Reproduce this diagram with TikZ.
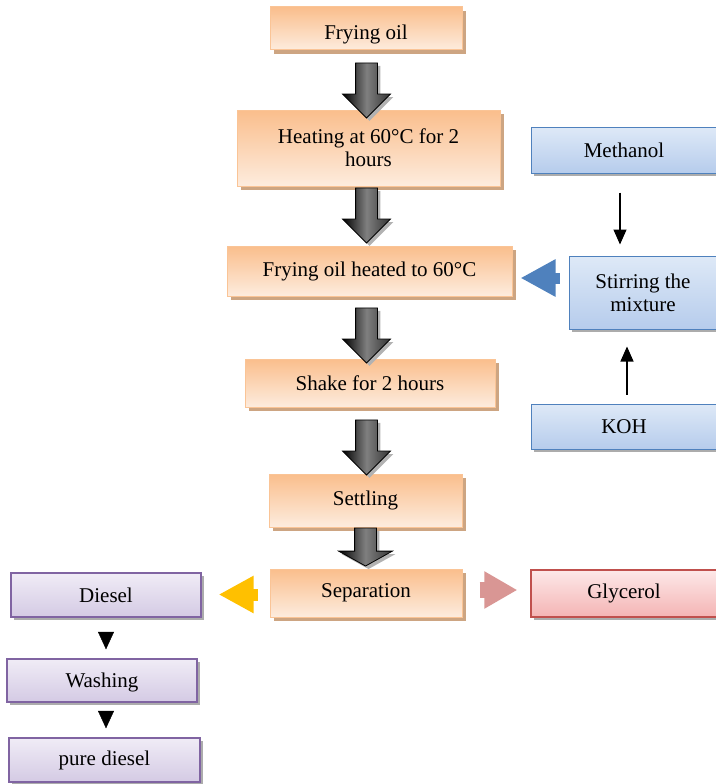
\documentclass[tikz,border=0pt]{standalone}
\usepackage{fontspec}
\setmainfont{Liberation Serif}
\usetikzlibrary{arrows.meta,shapes.arrows,shadows,calc}
\definecolor{orgtop}{RGB}{250,190,140}
\definecolor{orgbot}{RGB}{253,236,222}
\definecolor{orgline}{RGB}{250,196,150}
\definecolor{orgshadow}{RGB}{205,165,130}
\definecolor{bluetop}{RGB}{222,233,247}
\definecolor{bluebot}{RGB}{182,204,236}
\definecolor{blueline}{RGB}{79,129,189}
\definecolor{purptop}{RGB}{240,236,246}
\definecolor{purpbot}{RGB}{212,202,228}
\definecolor{purpline}{RGB}{128,100,162}
\definecolor{redtop}{RGB}{253,232,232}
\definecolor{redbot}{RGB}{244,180,180}
\definecolor{redline}{RGB}{192,80,77}
\definecolor{yellowarr}{RGB}{255,192,0}
\definecolor{pinkarr}{RGB}{217,150,148}

\begin{document}
\begin{tikzpicture}[x=1pt,y=-1pt,
  every node/.style={font=\fontsize{21}{23}\selectfont,align=center,inner sep=2pt},
  obox/.style={draw=orgline,line width=1pt,top color=orgtop,bottom color=orgbot,
    drop shadow={shadow xshift=4pt,shadow yshift=-4pt,fill=orgshadow,opacity=1}},
  bbox/.style={draw=blueline,line width=1pt,top color=bluetop,bottom color=bluebot,
    drop shadow={shadow xshift=3pt,shadow yshift=-3pt,fill=gray!65,opacity=1}},
  pbox/.style={draw=purpline,line width=1.3pt,top color=purptop,bottom color=purpbot,
    drop shadow={shadow xshift=3pt,shadow yshift=-3pt,fill=gray!65,opacity=1}},
  rbox/.style={draw=redline,line width=1.3pt,top color=redtop,bottom color=redbot,
    drop shadow={shadow xshift=3pt,shadow yshift=-3pt,fill=gray!65,opacity=1}},
  darr/.style={single arrow,shape border rotate=270,draw=black,line width=0.8pt,
    left color=black,right color=black!80,middle color=black!50,
    inner sep=10.5pt,single arrow head extend=13pt,minimum height=55pt,
    drop shadow={shadow xshift=3pt,shadow yshift=-3pt,fill=gray!60,opacity=1}},
  thinarr/.style={line width=1.2pt,-{Triangle[length=15pt,width=13pt]}},
  tri/.style={-{Triangle[length=17.5pt,width=16pt]}}]
  \useasboundingbox (0,0) rectangle (715,784);

  \node[obox,minimum width=192pt,minimum height=43pt,text height=26pt,text depth=4pt] (oil) at (366,28.5) {Frying oil};
  \node[obox,minimum width=263pt,minimum height=76pt] (heat) at (368.5,148) {Heating at 60°C for 2\\hours};
  \node[obox,minimum width=285pt,minimum height=50pt] (heated) at (369.5,271) {Frying oil heated to 60°C};
  \node[obox,minimum width=250pt,minimum height=48pt] (shake) at (370,383) {Shake for 2 hours};
  \node[obox,minimum width=193pt,minimum height=53pt] (settle) at (365.5,500.5) {Settling};
  \node[obox,minimum width=192pt,minimum height=48pt] (sep) at (366,593) {Separation};

  \node[bbox,minimum width=186pt,minimum height=46pt] (meth) at (624,150) {Methanol};
  \node[bbox,minimum width=148pt,minimum height=73pt] (stir) at (643,292.5) {Stirring the\\mixture};
  \node[bbox,minimum width=186pt,minimum height=45pt] (koh) at (624,426.5) {KOH};
  \node[rbox,minimum width=186pt,minimum height=47pt] (glyc) at (624,593.5) {Glycerol};

  \node[pbox,minimum width=190pt,minimum height=44pt] (diesel) at (106,595) {Diesel};
  \node[pbox,minimum width=190pt,minimum height=43pt,text height=18pt,text depth=4pt] (wash) at (102,680.5) {Washing};
  \node[pbox,minimum width=191pt,minimum height=44pt] (pure) at (104.5,760) {pure diesel};

  \node[darr] (a1) at (366.5,85) {};
  \node[darr] (a2) at (366.5,210) {};
  \node[darr] (a3) at (366.5,330) {};
  \node[darr] (a4) at (366.5,442) {};
  \node[darr,minimum height=38pt,single arrow head extend=16pt,single arrow tip angle=122] (a5) at (365.5,544) {};

  \draw[thinarr,shorten <=19pt,shorten >=11pt] ([xshift=-4pt]meth.south) -- ([xshift=-4pt]meth.south |- stir.north);
  \draw[thinarr,shorten <=9pt,shorten >=17pt] ([xshift=3pt]koh.north) -- ([xshift=3pt]koh.north |- stir.south);
  \draw[blueline,line width=11pt,-{Triangle[length=35pt,width=35pt]},shorten <=9pt,shorten >=8pt]
    ([yshift=14.5pt]stir.west) -- ([yshift=14.5pt]stir.west -| heated.east);
  \draw[yellowarr,line width=12pt,-{Triangle[length=35pt,width=35pt]},shorten <=12pt,shorten >=17pt]
    ([yshift=-1.5pt]sep.west) -- ([yshift=-1.5pt]sep.west -| diesel.east);
  \draw[pinkarr,line width=16pt,-{Triangle[length=33pt,width=35pt]},shorten <=17pt,shorten >=13pt]
    ([yshift=3pt]sep.east) -- ([yshift=3pt]sep.east -| glyc.west);
  \draw[tri,shorten <=14.5pt,shorten >=9pt] (diesel.south) -- (diesel.south |- wash.north);
  \draw[tri,shorten <=9.5pt,shorten >=9pt] (wash.south -| diesel.south) -- (pure.north -| diesel.south);
\end{tikzpicture}
\end{document}
